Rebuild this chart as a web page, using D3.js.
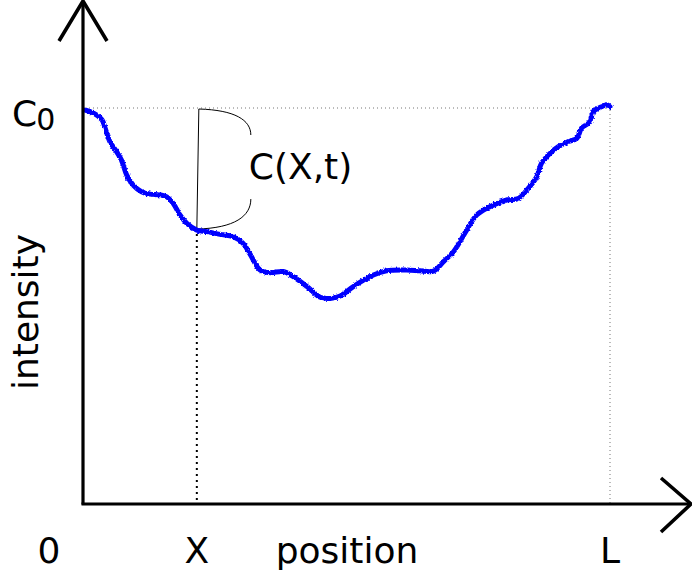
<!DOCTYPE html>
<html>
<head>
<meta charset="utf-8">
<script src="https://cdn.jsdelivr.net/npm/d3@7"></script>
<style>
  html, body { margin: 0; padding: 0; background: #fff; }
  svg { display: block; }
  text { font-family: "DejaVu Sans", sans-serif; fill: #000; }
</style>
</head>
<body>
<svg id="chart" width="692" height="573"></svg>
<script>
// Intensity profile along the sample (position 0..L = 0..100, intensity C0 = 100)
const positions = [0.4, 2.0, 3.6, 4.2, 5.1, 6.4, 7.3, 8.3, 9.5, 11.1, 12.7, 14.6, 15.9, 17.1, 18.4, 19.7,
  21.6, 23.5, 26.0, 28.5, 30.4, 31.7, 33.6, 35.5, 38.0, 39.9, 42.5, 45.0, 46.9, 48.8, 51.3, 55.1,
  57.6, 61.4, 64.0, 66.5, 68.4, 70.3, 71.5, 72.8, 74.7, 77.2, 80.4, 82.6, 84.2, 86.1, 87.0, 88.6,
  90.2, 92.1, 93.7, 94.6, 96.2, 96.8, 98.4, 99.4, 100];
const intensities = [99.5, 98.7, 97.0, 94.9, 91.5, 88.9, 86.8, 83.0, 80.5, 78.8, 78.2, 78.0, 77.5, 75.9, 72.9, 70.8,
  69.1, 68.7, 68.0, 67.4, 65.7, 63.0, 59.0, 58.3, 58.6, 57.3, 54.8, 52.1, 51.8, 52.4, 54.8, 57.7,
  58.8, 59.0, 58.8, 58.7, 61.1, 63.6, 66.1, 69.1, 72.9, 75.0, 76.7, 77.1, 79.2, 82.6, 86.0, 88.5,
  90.2, 91.5, 92.3, 94.9, 96.5, 99.1, 100.3, 100.8, 100.3];

// Marked points on the axes
const xTickValues = [21.6, 100];
const xTickLabels = ["X", "L"];
const originLabel = "0";
const c0Value = 100;
const markIndex = 16;           // sample at position X
const xTitle = "position";
const yTitle = "intensity";
const bracketLabel = "C(X,t)";

const svg = d3.select("#chart");

const x = d3.scaleLinear().domain([0, 100]).range([83, 610]);
const y = d3.scaleLinear().domain([0, 100]).range([503, 108]);

// Rough, hand-drawn look for the profile trace
const defs = svg.append("defs");
const f = defs.append("filter").attr("id", "rough")
  .attr("x", "-5%").attr("y", "-5%").attr("width", "110%").attr("height", "110%");
f.append("feTurbulence").attr("type", "fractalNoise").attr("baseFrequency", 0.6)
  .attr("numOctaves", 1).attr("seed", 4).attr("result", "noise");
f.append("feDisplacementMap").attr("in", "SourceGraphic").attr("in2", "noise")
  .attr("scale", 3.5).attr("xChannelSelector", "R").attr("yChannelSelector", "G");

const x0 = x(0), y0 = y(0);
const xMark = x(positions[markIndex]);
const yMark = y(intensities[markIndex]);

// Guide lines
svg.append("line")
  .attr("x1", x0 + 2).attr("x2", x(100)).attr("y1", y(c0Value)).attr("y2", y(c0Value))
  .attr("stroke", "#777").attr("stroke-width", 1).attr("stroke-dasharray", "1,3");
svg.append("line")
  .attr("x1", x(100)).attr("x2", x(100)).attr("y1", y(c0Value) - 2).attr("y2", y0)
  .attr("stroke", "#777").attr("stroke-width", 1).attr("stroke-dasharray", "1,3");
svg.append("line")
  .attr("x1", xMark).attr("x2", xMark).attr("y1", yMark + 4).attr("y2", y0)
  .attr("stroke", "#000").attr("stroke-width", 2).attr("stroke-dasharray", "2,4");

// Bracket spanning C0 down to C(X,t)
const yTop = y(c0Value) + 1;
svg.append("line")
  .attr("x1", xMark + 2).attr("y1", yTop).attr("x2", xMark).attr("y2", yMark - 1)
  .attr("stroke", "#000").attr("stroke-width", 1);
const bx = xMark + 54;
svg.append("path")
  .attr("d", `M${xMark + 2},${yTop} C${xMark + 38},${yTop + 1} ${bx},${yTop + 11} ${bx},${yTop + 26}`)
  .attr("fill", "none").attr("stroke", "#000").attr("stroke-width", 1);
svg.append("path")
  .attr("d", `M${bx},${yMark - 31} C${bx},${yMark - 14} ${xMark + 38},${yMark - 2} ${xMark},${yMark - 1}`)
  .attr("fill", "none").attr("stroke", "#000").attr("stroke-width", 1);
svg.append("text")
  .attr("x", xMark + 52).attr("y", 179).attr("font-size", 36)
  .text(bracketLabel);

// Profile
const line = d3.line()
  .x((d, i) => x(positions[i]))
  .y((d, i) => y(intensities[i]))
  .curve(d3.curveCatmullRom.alpha(0.5));
svg.append("path")
  .datum(intensities)
  .attr("d", line)
  .attr("fill", "none")
  .attr("stroke", "#0000ff")
  .attr("stroke-width", 5)
  .attr("stroke-linejoin", "round")
  .attr("stroke-linecap", "round")
  .attr("filter", "url(#rough)");

// Axes with open arrowheads
const axisG = svg.append("g").attr("stroke", "#000").attr("fill", "none")
  .attr("stroke-width", 3.2).attr("stroke-linecap", "butt");
axisG.append("line").attr("x1", x0).attr("y1", y0 + 1.5).attr("x2", x0).attr("y2", 1);
axisG.append("path").attr("d", `M${x0 - 24},41 L${x0},1 L${x0 + 24},41`).attr("stroke-width", 3.6);
axisG.append("line").attr("x1", x0 - 1.5).attr("y1", y0 + 1).attr("x2", 691).attr("y2", y0 + 1);
axisG.append("path").attr("d", `M661,${y0 - 25} L691,${y0 + 1} L661,${y0 + 29}`).attr("stroke-width", 3.6);

// Axis labels
svg.append("text").attr("x", x0 - 34).attr("y", 563).attr("font-size", 36)
  .attr("text-anchor", "middle").text(originLabel);
svg.selectAll(".xtick").data(xTickValues).join("text")
  .attr("class", "xtick")
  .attr("x", d => x(d))
  .attr("y", 563).attr("font-size", 36).attr("text-anchor", "middle")
  .text((d, i) => xTickLabels[i]);
svg.append("text").attr("x", 347).attr("y", 563).attr("font-size", 36)
  .attr("text-anchor", "middle").text(xTitle);

const c0 = svg.append("text").attr("x", 12).attr("y", y(c0Value) + 18).attr("font-size", 36);
c0.append("tspan").text("C");
c0.append("tspan").attr("font-size", 30).attr("dx", -1).attr("dy", 4).text("0");

svg.append("text")
  .attr("transform", `translate(38,312) rotate(-90)`)
  .attr("font-size", 36).attr("text-anchor", "middle")
  .text(yTitle);
</script>
</body>
</html>
